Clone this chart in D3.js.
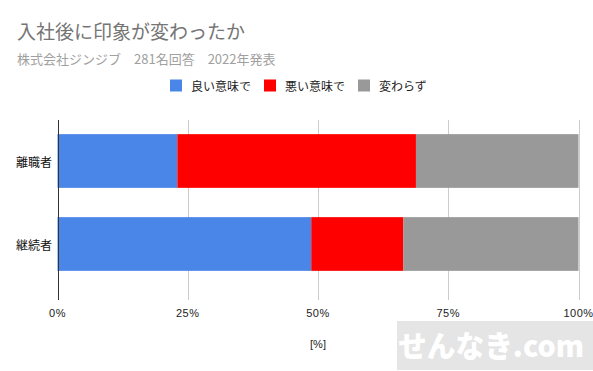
<!DOCTYPE html>
<html>
<head>
<meta charset="utf-8">
<script src="https://cdn.jsdelivr.net/npm/d3@7"></script>
<style>
  body { margin: 0; background: #fff; }
  svg { display: block; }
  text { font-family: "Liberation Sans", Arial, "Noto Sans CJK JP", sans-serif; }
  .jp { font-family: "Noto Sans CJK JP", sans-serif; }
</style>
</head>
<body>
<svg id="chart"></svg>
<script>
// chart data
const categories = ["離職者", "継続者"];
const seriesNames = ["良い意味で", "悪い意味で", "変わらず"];
const seriesColors = ["#4a86e8", "#ff0000", "#999999"];
const goodValues = [23.0, 48.7];
const badValues = [45.8, 17.7];
const sameValues = [31.2, 33.6];
const xTicks = [0, 25, 50, 75, 100];

const width = 593, height = 371;

const svg = d3.select("#chart")
    .attr("width", width)
    .attr("height", height);

// plot area
const plotLeft = 57.5, plotRight = 578.5;
const plotTop = 120, plotBottom = 300;

const x = d3.scaleLinear().domain([0, 100]).range([plotLeft, plotRight]);
const y = d3.scaleBand()
    .domain(categories)
    .range([119.5, 285.5])
    .paddingInner(0.353)
    .paddingOuter(0.1765);

// titles
svg.append("text")
    .attr("class", "jp")
    .attr("x", 17)
    .attr("y", 30)
    .attr("dominant-baseline", "central")
    .attr("font-size", 19)
    .attr("fill", "#757575")
    .text("入社後に印象が変わったか");

svg.append("text")
    .attr("class", "jp")
    .attr("x", 17)
    .attr("y", 58.5)
    .attr("dominant-baseline", "central")
    .attr("font-size", 13)
    .attr("fill", "#a0a0a0")
    .text("株式会社ジンジブ\u3000281名回答\u30002022年発表");

// legend
const legendX = [170, 264, 358];
const legend = svg.append("g");
seriesNames.forEach((name, i) => {
    legend.append("rect")
        .attr("x", legendX[i])
        .attr("y", 79.5)
        .attr("width", 12)
        .attr("height", 12)
        .attr("fill", seriesColors[i]);
    legend.append("text")
        .attr("class", "jp")
        .attr("x", legendX[i] + 21)
        .attr("y", 85.5)
        .attr("dominant-baseline", "central")
        .attr("font-size", 12)
        .attr("fill", "#222")
        .text(name);
});

// gridlines
svg.append("g")
    .selectAll("line")
    .data(xTicks.slice(1))
    .enter()
    .append("line")
    .attr("x1", d => Math.round(x(d)) + 0.5)
    .attr("x2", d => Math.round(x(d)) + 0.5)
    .attr("y1", plotTop)
    .attr("y2", plotBottom)
    .attr("stroke", "#cccccc")
    .attr("stroke-width", 1);

// stacked bars
const rows = categories.map((c, i) => ({
    category: c,
    values: [goodValues[i], badValues[i], sameValues[i]]
}));

rows.forEach(row => {
    let start = 0;
    row.values.forEach((v, j) => {
        svg.append("rect")
            .attr("x", x(start))
            .attr("y", y(row.category))
            .attr("width", x(start + v) - x(start))
            .attr("height", y.bandwidth())
            .attr("fill", seriesColors[j]);
        start += v;
    });
});

// zero axis line
svg.append("line")
    .attr("x1", Math.round(x(0)) + 0.5)
    .attr("x2", Math.round(x(0)) + 0.5)
    .attr("y1", plotTop)
    .attr("y2", plotBottom)
    .attr("stroke", "#333")
    .attr("stroke-width", 1);

// x tick labels
svg.append("g")
    .selectAll("text")
    .data(xTicks)
    .enter()
    .append("text")
    .attr("x", d => x(d))
    .attr("y", 317)
    .attr("text-anchor", "middle")
    .attr("font-size", 11)
    .attr("letter-spacing", 0.5)
    .attr("fill", "#222")
    .text(d => d + "%");

svg.append("text")
    .attr("x", 318)
    .attr("y", 348)
    .attr("text-anchor", "middle")
    .attr("font-size", 11)
    .attr("fill", "#222")
    .text("[%]");

// category labels
svg.append("g")
    .selectAll("text")
    .data(categories)
    .enter()
    .append("text")
    .attr("class", "jp")
    .attr("x", 52)
    .attr("y", d => y(d) + y.bandwidth() / 2)
    .attr("text-anchor", "end")
    .attr("dominant-baseline", "central")
    .attr("font-size", 12)
    .attr("fill", "#111")
    .text(d => d);

// watermark
svg.append("rect")
    .attr("x", 397)
    .attr("y", 321)
    .attr("width", width - 397)
    .attr("height", 49)
    .attr("fill", "#e5e5e5");

svg.append("text")
    .attr("class", "jp")
    .attr("x", 398)
    .attr("y", 344)
    .attr("dominant-baseline", "central")
    .attr("font-size", 30)
    .attr("font-weight", 900)
    .attr("fill", "#ffffff")
    .attr("textLength", 186)
    .attr("lengthAdjust", "spacingAndGlyphs")
    .text("せんなき.com");
</script>
</body>
</html>
